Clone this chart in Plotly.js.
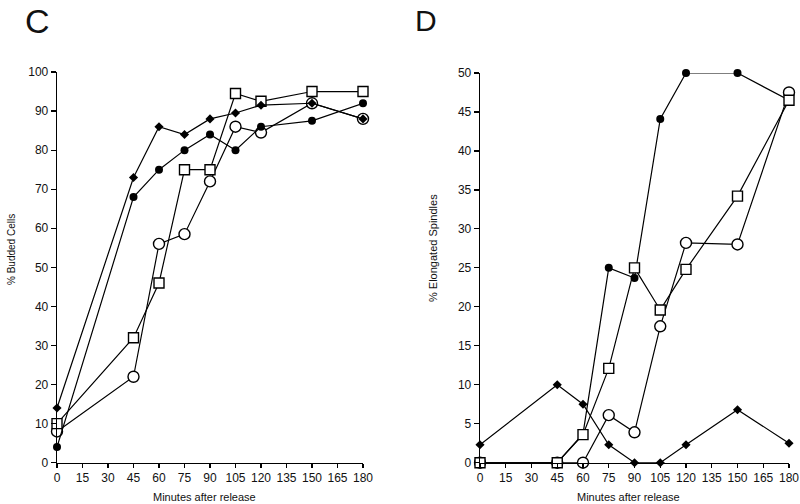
<!DOCTYPE html>
<html>
<head>
<meta charset="utf-8">
<script src="https://cdn.plot.ly/plotly-3.0.1.min.js"></script>
<style>html,body{margin:0;padding:0;background:#fff;}#chart{width:800px;height:504px;}</style>
</head>
<body>
<div id="chart"></div>
<script>
const minutes = [0, 45, 60, 75, 90, 105, 120, 150, 180];
const xTicks = [0, 15, 30, 45, 60, 75, 90, 105, 120, 135, 150, 165, 180];

// Panel C: % Budded Cells
const buddedDiamond = [14, 73, 86, 84, 88, 89.5, 91.5, 92, 88];
const buddedFilled = [4, 68, 75, 80, 84, 80, 86, 87.5, 92];
const buddedOpenCircle = [8, 22, 56, 58.5, 72, 86, 84.5, 92, 88];
const buddedSquare = [10, 32, 46, 75, 75, 94.5, 92.5, 95, 95];

// Panel D: % Elongated Spindles
const spDiamond = [2.3, 10, 7.5, 2.3, 0, 0, 2.3, 6.8, 2.5];
const spFilled = [0, 0, 3.7, 25, 23.7, 44.1, 50, 50, 46.5];
const spOpenCircle = [0, 0, 0, 6.1, 3.9, 17.5, 28.2, 28, 47.5];
const spSquare = [0, 0, 3.6, 12.1, 25, 19.6, 24.8, 34.2, 46.5];

const W = 800, H = 504;
const px = v => v / W;
const py = v => 1 - v / H;

const styles = {
  diamond: {symbol: 'diamond', size: 7, color: '#000', line: {color: '#000', width: 0}},
  filled: {symbol: 'circle', size: 8, color: '#000', line: {color: '#000', width: 0}},
  openCircle: {symbol: 'circle', size: 11, color: '#fff', line: {color: '#000', width: 1.4}},
  square: {symbol: 'square', size: 10, color: '#fff', line: {color: '#000', width: 1.4}}
};

function tr(y, st, xa, ya) {
  return {
    x: minutes, y: y, xaxis: xa, yaxis: ya,
    type: 'scatter', mode: 'lines+markers', cliponaxis: false,
    line: {color: '#000', width: 1.2},
    marker: styles[st], hoverinfo: 'skip'
  };
}

const data = [
  tr(buddedOpenCircle, 'openCircle', 'x', 'y'),
  tr(buddedSquare, 'square', 'x', 'y'),
  tr(buddedFilled, 'filled', 'x', 'y'),
  tr(buddedDiamond, 'diamond', 'x', 'y'),
  tr(spOpenCircle, 'openCircle', 'x2', 'y2'),
  tr(spFilled, 'filled', 'x2', 'y2'),
  tr(spDiamond, 'diamond', 'x2', 'y2'),
  tr(spSquare, 'square', 'x2', 'y2')
];

const tickFont = {family: 'Liberation Sans, Arial, sans-serif', size: 12, color: '#111'};
const axBase = {
  showgrid: false, zeroline: false, showline: true, linecolor: '#000', linewidth: 1.3,
  ticks: 'outside', tickcolor: '#000', tickwidth: 1.2, ticklen: 4, tickfont: tickFont,
  fixedrange: true
};

const layout = {
  width: W, height: H,
  margin: {l: 0, r: 0, t: 0, b: 0},
  paper_bgcolor: '#fff', plot_bgcolor: '#fff',
  showlegend: false,
  xaxis: Object.assign({}, axBase, {domain: [px(57), px(363)], range: [0, 180], tickvals: xTicks, anchor: 'y'}),
  yaxis: Object.assign({}, axBase, {domain: [py(462.7), py(72)], range: [0, 100], dtick: 10, tick0: 0, anchor: 'x', ticklen: 5}),
  xaxis2: Object.assign({}, axBase, {domain: [px(480), px(789)], range: [0, 180], tickvals: xTicks, anchor: 'y2'}),
  yaxis2: Object.assign({}, axBase, {domain: [py(462.7), py(73)], range: [0, 50], dtick: 5, tick0: 0, anchor: 'x2', ticklen: 5}),
  annotations: [
    {text: 'C', xref: 'paper', yref: 'paper', x: px(37), y: py(21), xanchor: 'center', yanchor: 'middle', showarrow: false,
     font: {family: 'Liberation Sans, Arial, sans-serif', size: 34, color: '#111'}},
    {text: 'D', xref: 'paper', yref: 'paper', x: px(426), y: py(21), xanchor: 'center', yanchor: 'middle', showarrow: false,
     font: {family: 'Liberation Sans, Arial, sans-serif', size: 30, color: '#111'}},
    {text: 'Minutes after release', xref: 'paper', yref: 'paper', x: px(204), y: py(497), xanchor: 'center', yanchor: 'middle', showarrow: false,
     font: {family: 'Liberation Sans, Arial, sans-serif', size: 11, color: '#111'}},
    {text: 'Minutes after release', xref: 'paper', yref: 'paper', x: px(628), y: py(497), xanchor: 'center', yanchor: 'middle', showarrow: false,
     font: {family: 'Liberation Sans, Arial, sans-serif', size: 11, color: '#111'}},
    {text: '% Budded Cells', xref: 'paper', yref: 'paper', x: px(11), y: py(250), xanchor: 'center', yanchor: 'middle', showarrow: false, textangle: -90,
     font: {family: 'Liberation Sans, Arial, sans-serif', size: 10, color: '#111'}},
    {text: '% Elongated Spindles', xref: 'paper', yref: 'paper', x: px(433), y: py(248), xanchor: 'center', yanchor: 'middle', showarrow: false, textangle: -90,
     font: {family: 'Liberation Sans, Arial, sans-serif', size: 11, color: '#111'}}
  ]
};

Plotly.newPlot('chart', data, layout, {staticPlot: true, displayModeBar: false});
</script>
</body>
</html>
